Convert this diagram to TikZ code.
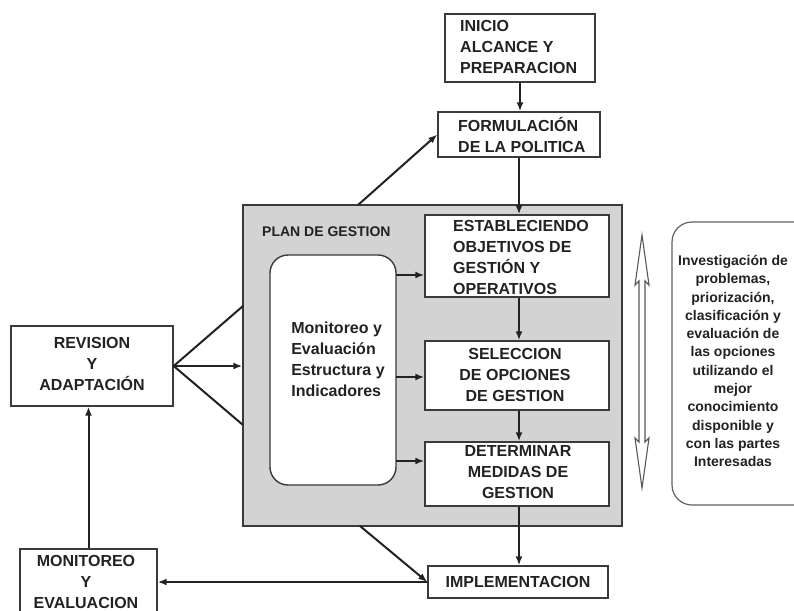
\documentclass[tikz,border=0pt]{standalone}
\usepackage{fontspec}
\setmainfont{Liberation Sans}
\usetikzlibrary{arrows.meta,calc}
\definecolor{ink}{HTML}{222222}
\definecolor{edge}{HTML}{3A3A3A}
\definecolor{planfill}{HTML}{D3D3D3}
\begin{document}
\begin{tikzpicture}[x=1pt,y=-1pt,
  box/.style={draw=edge,line width=1.4pt,fill=white,inner sep=0pt},
  txt/.style={font=\bfseries\fontsize{16}{21}\selectfont,text=ink,inner sep=0pt,align=center},
  smalltxt/.style={font=\bfseries\fontsize{14}{18.3}\selectfont,text=ink,inner sep=0pt,align=center},
  arr/.style={draw=ink,line width=2pt,-{Latex[length=9pt,width=7pt]}},
  ln/.style={draw=ink,line width=2pt}]
\useasboundingbox (0,0) rectangle (794,610);
\fill[white] (0,0) rectangle (794,610);

% top boxes
\node[box,minimum width=150pt,minimum height=68pt] (ini) at (520,48) {};
\node[txt,align=left,anchor=west] (iniT) at (460,47) {INICIO\\ALCANCE Y\\PREPARACION};
\node[box,minimum width=162pt,minimum height=45pt] (form) at (519,134.5) {};
\node[txt,align=left,anchor=west] (formT) at (458,135) {FORMULACIÓN\\DE LA POLITICA};

% plan
\node[draw=edge,line width=1.4pt,fill=planfill,minimum width=379pt,minimum height=321pt,inner sep=0pt] (plan) at (432.5,365.5) {};
\node[smalltxt,anchor=base west] (planT) at (262,236) {PLAN DE GESTION};
\node[box,rounded corners=18pt,minimum width=126pt,minimum height=230pt] (mon) at (333,370) {};
\node[txt,align=left] (monT) at (338,359) {Monitoreo y\\Evaluación\\Estructura y\\Indicadores};

\node[box,minimum width=184pt,minimum height=82pt] (est) at (517,256) {};
\node[txt,align=left,anchor=west] (estT) at (453,257) {ESTABLECIENDO\\OBJETIVOS DE\\GESTIÓN Y\\OPERATIVOS};
\node[box,minimum width=184pt,minimum height=69pt] (sel) at (517,375.5) {};
\node[txt] (selT) at (515,375) {SELECCION\\DE OPCIONES\\DE GESTION};
\node[box,minimum width=184pt,minimum height=64pt] (det) at (517,474) {};
\node[txt] (detT) at (518,472) {DETERMINAR\\MEDIDAS DE\\GESTION};

\node[box,minimum width=180pt,minimum height=32pt] (impl) at (518,582) {};
\node[txt] (implT) at (518,582) {IMPLEMENTACION};

% left boxes
\node[box,minimum width=162pt,minimum height=80pt] (rev) at (92,366) {};
\node[txt] (revT) at (92,364) {REVISION\\Y\\ADAPTACIÓN};
\node[box,minimum width=137pt,minimum height=82pt] (mev) at (88.5,590) {};
\node[txt,anchor=north] (mevT) at (86,555) {MONITOREO\\Y\\EVALUACION};

% right info box
\node[box,draw=edge!80,line width=1.2pt,rounded corners=20pt,minimum width=148pt,minimum height=283pt] (info) at (746,363.5) {};
\node[smalltxt] (infoT) at (733,361) {Investigación de\\problemas,\\priorización,\\clasificación y\\evaluación de\\las opciones\\utilizando el\\mejor\\conocimiento\\disponible y\\con las partes\\Interesadas};

% double hollow arrow
\coordinate (dt) at (642,235);
\coordinate (db) at (642,488);
\draw[draw=edge!85,line width=1.1pt,fill=white,line join=miter]
  (dt) -- ($(dt)+(7,50)$) -- ($(dt)+(3,46)$) -- ($(db)+(3,-46)$) -- ($(db)+(7,-50)$)
  -- (db) -- ($(db)+(-7,-50)$) -- ($(db)+(-3,-46)$) -- ($(dt)+(-3,46)$) -- ($(dt)+(-7,50)$) -- cycle;

% connectors
\draw[arr] (ini.south) -- (ini.south |- form.north);
\draw[arr] (form.south) -- (form.south |- est.north);
\draw[arr] (est.south -| form.south) -- (sel.north -| form.south);
\draw[arr] (sel.south -| form.south) -- (det.north -| form.south);
\draw[arr] (det.south -| form.south) -- (impl.north -| form.south);

\coordinate (m1) at (396,275);
\coordinate (m2) at (396,377);
\coordinate (m3) at (396,461);
\draw[arr] (m1) -- (m1 -| est.west);
\draw[arr] (m2) -- (m2 -| sel.west);
\draw[arr] (m3) -- (m3 -| det.west);

\coordinate (pw1) at (243,306);
\coordinate (pw3) at (243,425);
\draw[ln] (rev.east) -- (pw1);
\draw[ln] (rev.east) -- (pw3);
\draw[arr] (rev.east) -- (rev.east -| plan.west);

\coordinate (pn) at (358,205);
\coordinate (ps) at (360,526);
\draw[arr] (pn) -- (form.west);
\draw[arr] (ps) -- (impl.west);
\draw[arr] (impl.west) -- (impl.west -| mev.east);
\draw[arr] (mev.north) -- (mev.north |- rev.south);
\end{tikzpicture}
\end{document}
